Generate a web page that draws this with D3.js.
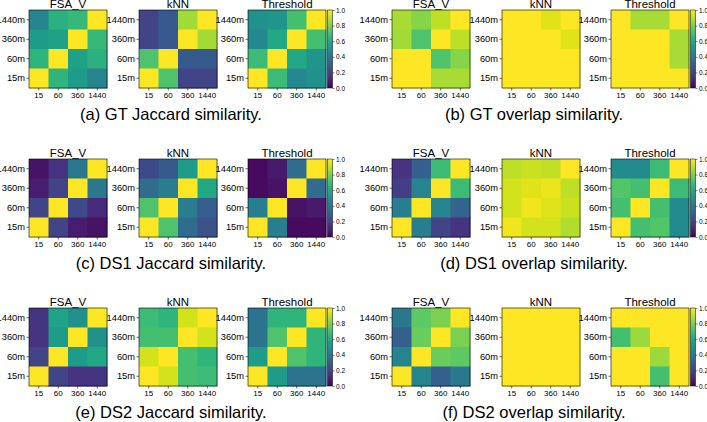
<!DOCTYPE html>
<html>
<head>
<meta charset="utf-8">
<script src="https://cdn.jsdelivr.net/npm/d3@7"></script>
<style>
  body { margin: 0; background: #fff; }
  svg { display: block; }
</style>
</head>
<body>
<svg id="chart"></svg>
<script>
// categories
const xLabels = ['15', '60', '360', '1440'];
const yLabels = ['1440m', '360m', '60m', '15m']; // top to bottom
const methods = ['FSA_V', 'kNN', 'Threshold'];
const captions = [
  '(a) GT Jaccard similarity.', '(b) GT overlap similarity.',
  '(c) DS1 Jaccard similarity.', '(d) DS1 overlap similarity.',
  '(e) DS2 Jaccard similarity.', '(f) DS2 overlap similarity.'
];
const cbTicks = [0, 0.2, 0.4, 0.6, 0.8, 1.0];

// matrices, rows top to bottom (1440m .. 15m), cols 15 .. 1440
const gtJacFsa = [[0.45, 0.64, 0.67, 1.0], [0.55, 0.57, 1.0, 0.67], [0.65, 1.0, 0.57, 0.64], [1.0, 0.65, 0.55, 0.45]];
const gtJacKnn = [[0.2, 0.28, 0.86, 1.0], [0.2, 0.28, 1.0, 0.86], [0.72, 1.0, 0.28, 0.28], [1.0, 0.72, 0.2, 0.2]];
const gtJacThr = [[0.5, 0.52, 0.7, 1.0], [0.47, 0.6, 1.0, 0.7], [0.68, 1.0, 0.6, 0.52], [1.0, 0.68, 0.47, 0.5]];

const gtOvFsa = [[0.87, 0.82, 0.9, 1.0], [0.86, 0.72, 1.0, 0.9], [1.0, 1.0, 0.72, 0.82], [1.0, 1.0, 0.87, 0.87]];
const gtOvKnn = [[1.0, 1.0, 0.95, 1.0], [1.0, 1.0, 1.0, 0.95], [1.0, 1.0, 1.0, 1.0], [1.0, 1.0, 1.0, 1.0]];
const gtOvThr = [[1.0, 0.87, 0.87, 1.0], [1.0, 1.0, 1.0, 0.87], [1.0, 1.0, 1.0, 0.87], [1.0, 1.0, 1.0, 1.0]];

const ds1JacFsa = [[0.05, 0.15, 0.4, 1.0], [0.08, 0.2, 1.0, 0.4], [0.2, 1.0, 0.22, 0.12], [1.0, 0.2, 0.08, 0.05]];
const ds1JacKnn = [[0.22, 0.28, 0.55, 1.0], [0.35, 0.42, 1.0, 0.6], [0.72, 1.0, 0.42, 0.3], [1.0, 0.72, 0.35, 0.25]];
const ds1JacThr = [[0.03, 0.07, 0.35, 1.0], [0.03, 0.05, 1.0, 0.35], [0.42, 1.0, 0.05, 0.07], [1.0, 0.42, 0.03, 0.03]];

const ds1OvFsa = [[0.15, 0.3, 0.68, 1.0], [0.18, 0.45, 1.0, 0.68], [0.42, 1.0, 0.45, 0.32], [1.0, 0.42, 0.2, 0.15]];
const ds1OvKnn = [[0.9, 0.92, 0.91, 1.0], [0.93, 0.95, 0.97, 0.9], [0.93, 0.98, 0.95, 0.92], [0.98, 0.93, 0.93, 0.88]];
const ds1OvThr = [[0.48, 0.48, 0.68, 1.0], [0.73, 0.7, 1.0, 0.68], [0.7, 1.0, 0.7, 0.48], [1.0, 0.7, 0.73, 0.48]];

const ds2JacFsa = [[0.15, 0.58, 0.5, 1.0], [0.15, 0.55, 1.0, 0.5], [0.2, 1.0, 0.55, 0.6], [1.0, 0.2, 0.15, 0.15]];
const ds2JacKnn = [[0.68, 0.65, 0.93, 1.0], [0.7, 0.7, 1.0, 0.93], [0.93, 1.0, 0.7, 0.65], [1.0, 0.93, 0.7, 0.68]];
const ds2JacThr = [[0.38, 0.65, 0.65, 1.0], [0.38, 0.72, 1.0, 0.65], [0.55, 1.0, 0.72, 0.65], [1.0, 0.55, 0.38, 0.38]];

const ds2OvFsa = [[0.4, 0.75, 0.8, 1.0], [0.3, 0.77, 1.0, 0.8], [0.45, 1.0, 0.77, 0.75], [1.0, 0.45, 0.3, 0.4]];
const ds2OvKnn = [[1.0, 1.0, 1.0, 1.0], [1.0, 1.0, 1.0, 1.0], [1.0, 1.0, 1.0, 1.0], [1.0, 1.0, 1.0, 1.0]];
const ds2OvThr = [[1.0, 1.0, 1.0, 1.0], [0.7, 0.85, 1.0, 1.0], [1.0, 1.0, 0.85, 1.0], [1.0, 1.0, 0.7, 1.0]];

const panels = [
  [gtJacFsa, gtJacKnn, gtJacThr], [gtOvFsa, gtOvKnn, gtOvThr],
  [ds1JacFsa, ds1JacKnn, ds1JacThr], [ds1OvFsa, ds1OvKnn, ds1OvThr],
  [ds2JacFsa, ds2JacKnn, ds2JacThr], [ds2OvFsa, ds2OvKnn, ds2OvThr]
];

const width = 707, height = 422;
const size = 78;
const font = 'Liberation Sans, Arial, sans-serif';
const svg = d3.select('#chart').attr('width', width).attr('height', height);
const color = d3.scaleSequential(d3.interpolateViridis).domain([0, 1]);

const x = d3.scaleBand().domain(xLabels).range([0, size]);
const y = d3.scaleBand().domain(yLabels).range([0, size]);

const panelX = [0, 363];
const panelY = [10, 159, 308];
const mapX = [29, 139, 248];

const drawMap = (g, matrix, title) => {
  const cells = [];
  matrix.forEach((row, i) => row.forEach((v, j) => cells.push({ r: yLabels[i], c: xLabels[j], v })));

  g.selectAll('rect.cell')
    .data(cells)
    .enter()
    .append('rect')
    .attr('class', 'cell')
    .attr('x', d => x(d.c))
    .attr('y', d => y(d.r))
    .attr('width', x.bandwidth() + 0.5)
    .attr('height', y.bandwidth() + 0.5)
    .attr('fill', d => color(d.v));

  g.append('rect')
    .attr('width', size).attr('height', size)
    .attr('fill', 'none').attr('stroke', '#000').attr('stroke-width', 0.6);

  const xa = g.append('g')
    .attr('transform', 'translate(0,' + size + ')')
    .call(d3.axisBottom(x).tickSize(2.5).tickPadding(2));
  xa.select('.domain').remove();
  xa.selectAll('text').attr('font-size', 8).attr('font-family', font).attr('fill', '#000');
  xa.selectAll('line').attr('stroke-width', 0.6);

  const ya = g.append('g').call(d3.axisLeft(y).tickSize(2.5).tickPadding(1.5));
  ya.select('.domain').remove();
  ya.selectAll('text').attr('font-size', 9.3).attr('font-family', font).attr('fill', '#000');
  ya.selectAll('line').attr('stroke-width', 0.6);

  g.append('text')
    .attr('x', size / 2).attr('y', -2.5)
    .attr('text-anchor', 'middle')
    .attr('font-family', font)
    .attr('font-size', 11.5)
    .text(title);
};

const drawColorbar = (g) => {
  const cb = d3.scaleLinear().domain([0, 1]).range([size, 0]);
  const defs = g.append('defs');
  const id = 'grad' + Math.random().toString(36).slice(2, 8);
  const grad = defs.append('linearGradient').attr('id', id)
    .attr('x1', 0).attr('y1', 1).attr('x2', 0).attr('y2', 0);
  d3.range(0, 1.01, 0.1).forEach(t => {
    grad.append('stop').attr('offset', t).attr('stop-color', color(t));
  });
  g.append('rect').attr('width', 5).attr('height', size)
    .attr('fill', 'url(#' + id + ')')
    .attr('stroke', '#000').attr('stroke-width', 0.5);
  const a = g.append('g').attr('transform', 'translate(5,0)')
    .call(d3.axisRight(cb).tickValues(cbTicks).tickFormat(d3.format('.1f')).tickSize(2).tickPadding(1.5));
  a.select('.domain').remove();
  a.selectAll('text').attr('font-size', 6.5).attr('font-family', font).attr('fill', '#000');
  a.selectAll('line').attr('stroke-width', 0.5);
};

panels.forEach((mats, p) => {
  const ox = panelX[p % 2];
  const oy = panelY[Math.floor(p / 2)];
  mats.forEach((m, k) => {
    const g = svg.append('g').attr('transform', 'translate(' + (ox + mapX[k]) + ',' + oy + ')');
    drawMap(g, m, methods[k]);
  });
  const cg = svg.append('g').attr('transform', 'translate(' + (ox + mapX[2] + size + 1.5) + ',' + oy + ')');
  drawColorbar(cg);

  svg.append('text')
    .attr('x', ox + 171).attr('y', oy + 110)
    .attr('text-anchor', 'middle')
    .attr('font-family', font)
    .attr('font-size', 16.5)
    .text(captions[p]);
});
</script>
</body>
</html>
